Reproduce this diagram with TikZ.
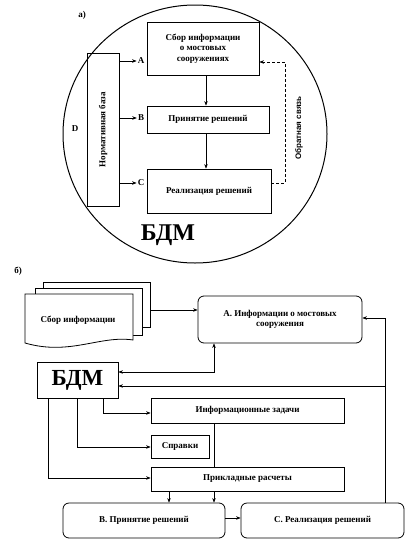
\documentclass[tikz,border=0pt]{standalone}
\usepackage{fontspec}
\setmainfont{Liberation Serif}
\newfontfamily\sansf{Liberation Sans}
\usetikzlibrary{arrows.meta}
\tikzset{
  box/.style={draw, line width=0.8pt, align=center, inner sep=1pt, font=\bfseries\fontsize{9}{10.5}\selectfont},
  rbox/.style={box, rounded corners=6pt},
  lbl/.style={font=\bfseries\fontsize{9}{10.5}\selectfont, inner sep=0pt},
  arr/.style={line width=0.6pt, -{Stealth[length=4.5pt,width=3.5pt]}},
  arrb/.style={line width=0.6pt, {Stealth[length=4.5pt,width=3.5pt]}-{Stealth[length=4.5pt,width=3.5pt]}},
  ln/.style={line width=0.6pt},
  page/.style={draw, line width=0.8pt, fill=white}
}
\begin{document}
\begin{tikzpicture}[x=1pt,y=-1pt]
\useasboundingbox (0,0) rectangle (414,554);
% ---------- part a ----------
\node[lbl] (la) at (82,15) {а)};
\draw[line width=1pt] (195,134) ellipse [x radius=132pt, y radius=129pt];
\node[box, minimum width=112pt, minimum height=53pt] (t1) at (203,48.5) {Сбор информации\\о мостовых\\сооружениях};
\node[box, minimum width=122pt, minimum height=27pt] (t2) at (208,119.5) {Принятие решений};
\node[box, minimum width=124pt, minimum height=44pt] (t3) at (209,191) {Реализация решений};
\node[box, minimum width=32pt, minimum height=153pt] (nb) at (103,129.5) {};
\node[lbl, rotate=90] (nbt) at (nb.center) {Нормативная база};
\node[lbl] (lA) at (141,61) {A};
\node[lbl] (lB) at (141,118) {B};
\node[lbl] (lC) at (141,183) {C};
\node[lbl] (lD) at (75,129) {D};
\draw[arr] (lA.west -| nb.east) -- ([xshift=-1pt]lA.west);
\draw[arr] (lB.west -| nb.east) -- ([xshift=-1pt]lB.west);
\draw[arr] (lC.west -| nb.east) -- ([xshift=-1pt]lC.west);
\coordinate (ax) at (206,0);
\draw[arr] (ax |- t1.south) -- (ax |- t2.north);
\draw[arr] (ax |- t2.south) -- (ax |- t3.north);
\coordinate (fb1) at (285,183);
\coordinate (fb2) at (285,62);
\draw[arr, dashed, dash pattern=on 3pt off 2pt] (fb1 -| t3.east) -- (fb1) -- (fb2) -- (fb2 -| t1.east);
\node[font=\sansf\bfseries\fontsize{8}{9}\selectfont, rotate=90, inner sep=0pt] (obr) at (299,128) {Обратная связь};
\node[font=\bfseries\fontsize{24}{26}\selectfont, inner sep=0pt] (bdm1) at (168,235) {БДМ};
% ---------- part b ----------
\node[lbl] (lb) at (18,271) {б)};
\draw[page] (43,282) rectangle (150,327);
\draw[page] (35,288) rectangle (142,335);
\draw[page] (25,294) -- (133,294) -- (133,340) .. controls (100,335) and (70,356) .. (25,343) -- cycle;
\node[lbl] (stk) at (78,320) {Сбор информации};
\coordinate (st) at (150,310);
\node[rbox, minimum width=164pt, minimum height=47pt] (bA) at (280,319.5) {А. Информации о мостовых\\сооружения};
\node[box, minimum width=81pt, minimum height=36pt, font=\bfseries\fontsize{23}{25}\selectfont] (bdm) at (77.5,380) {БДМ};
\node[box, minimum width=193pt, minimum height=25pt] (inf) at (247.5,410.5) {Информационные задачи};
\node[box, minimum width=58pt, minimum height=23pt] (spr) at (180,446.5) {Справки};
\node[box, minimum width=193pt, minimum height=24pt] (prk) at (247.5,479) {Прикладные расчеты};
\node[rbox, minimum width=162pt, minimum height=35pt] (bB) at (144,520.5) {В. Принятие решений};
\node[rbox, minimum width=163pt, minimum height=35pt] (bC) at (322.5,520.5) {С. Реализация решений};
\draw[arr] (st) -- (st -| bA.west);
\coordinate (j1) at (214,372);
\draw[arrb] (j1 -| bdm.east) -- (j1) -- (j1 |- bA.south);
\coordinate (j2) at (385,318);
\coordinate (j3) at (385,386);
\draw[arr] (j2 |- bC.north) -- (j2) -- (j2 -| bA.east);
\draw[arr] (j3) -- (j3 -| bdm.east);
\coordinate (k1) at (103,413);
\coordinate (k2) at (77,447);
\coordinate (k3) at (48,478);
\draw[arr] (k1 |- bdm.south) -- (k1) -- (k1 -| inf.west);
\draw[arr] (k2 |- bdm.south) -- (k2) -- (k2 -| spr.west);
\draw[arr] (k3 |- bdm.south) -- (k3) -- (k3 -| prk.west);
\coordinate (xm) at (214,480);
\coordinate (xl) at (169,480);
\draw[ln] (xm |- inf.south) -- (xm |- prk.north);
\draw[arr] (xm |- prk.south) -- (xm |- bB.north);
\draw[arr] (xl |- prk.south) -- (xl |- bB.north);
\coordinate (n1) at (233,518);
\draw[arr] (n1 -| bB.east) -- (n1 -| bC.west);
\end{tikzpicture}
\end{document}
